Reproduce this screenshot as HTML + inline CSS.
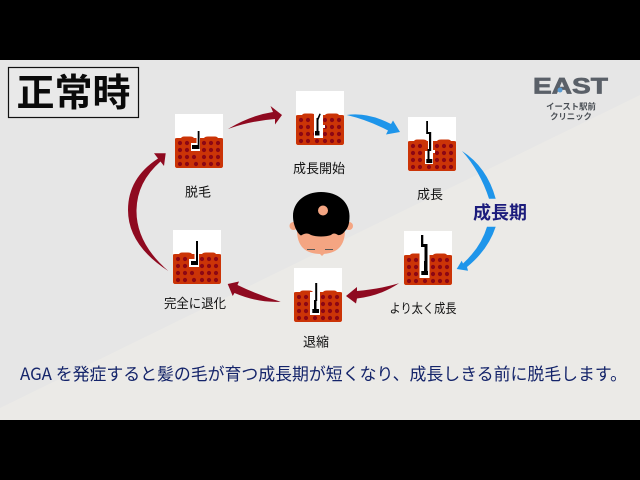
<!DOCTYPE html>
<html lang="ja"><head><meta charset="utf-8"><style>
html,body{margin:0;padding:0;background:#000}
svg{display:block}
text{font-family:"Noto Sans CJK JP","Liberation Sans",sans-serif}
.l{font-size:13px;fill:#111;text-anchor:middle}
</style></head><body>
<svg width="640" height="480" viewBox="0 0 640 480" xmlns="http://www.w3.org/2000/svg">
<defs>
<g id="ic">
<rect width="48" height="54" fill="#fff"/>
<path d="M0 25Q0 24 2 24H6Q7 22.500 9 22.500H15Q18 22.500 19 24H29Q30 22.500 33 22.500H40Q42 22.500 43 24H46Q48 24 48 25V52Q48 54 46 54H2Q0 54 0 52Z" fill="#cb3407"/>
<g fill="#8c0714">
<circle cx="5" cy="29" r="2.100"/><circle cx="12" cy="29" r="2.100"/><circle cx="29" cy="29" r="2.100"/><circle cx="36" cy="29" r="2.100"/><circle cx="43" cy="29" r="2.100"/>
<circle cx="5" cy="36" r="2.100"/><circle cx="12" cy="36" r="2.100"/><circle cx="29" cy="36" r="2.100"/><circle cx="36" cy="36" r="2.100"/><circle cx="43" cy="36" r="2.100"/>
<circle cx="5" cy="43" r="2.100"/><circle cx="12" cy="43" r="2.100"/><circle cx="19" cy="43" r="2.100"/><circle cx="29" cy="43" r="2.100"/><circle cx="36" cy="43" r="2.100"/><circle cx="43" cy="43" r="2.100"/>
<circle cx="5" cy="50" r="2.100"/><circle cx="12" cy="50" r="2.100"/><circle cx="21" cy="50" r="2.100"/><circle cx="29" cy="50" r="2.100"/><circle cx="36" cy="50" r="2.100"/><circle cx="43" cy="50" r="2.100"/>
</g>
</g>
</defs>

<rect width="640" height="480" fill="#000"/>
<rect y="60" width="640" height="360" fill="#e6e6e6"/>
<path d="M640 95V420H0V408Z" fill="#ebeae7"/>

<rect x="8.500" y="67.500" width="130" height="50" fill="#e9e9e9" stroke="#111" stroke-width="1.200"/>
<text x="73.500" y="106" font-size="38" text-anchor="middle" fill="#0a0a0a" font-weight="700">正常時</text>

<!-- logo -->
<text x="570.500" y="93.500" font-size="22" font-weight="700" text-anchor="middle" fill="#5a6068" stroke="#5a6068" stroke-width="0.700" textLength="75" lengthAdjust="spacingAndGlyphs" style="font-family:'Liberation Sans',sans-serif">EAST</text>
<circle cx="560" cy="90" r="2.500" fill="#5b9bd0"/>
<text x="571" y="109.500" font-size="8.400" font-weight="700" text-anchor="middle" fill="#4a4f55">イースト駅前</text>
<text x="571" y="119.500" font-size="8.400" font-weight="700" text-anchor="middle" fill="#4a4f55">クリニック</text>

<!-- icons -->
<g transform="translate(175,114)"><use href="#ic"/>
<path d="M21.500 23H25V37H16V29H21.500Z" fill="#fff"/>
<path d="M17 31H24.500V35H17Z M22.700 17H24.500V35H22.700Z" fill="#000"/></g>
<g transform="translate(296,91)"><use href="#ic"/>
<path d="M18 22H27V34H29V37H27V47H18Z" fill="#fff"/>
<path d="M19 40H23.500V44.500H19Z M20.500 27H22.500V41H20.500Z" fill="#000"/>
<path d="M21 28L23.500 22.500L24.800 23L22.500 29Z" fill="#000"/></g>
<g transform="translate(408,117)"><use href="#ic"/>
<path d="M20 24H25V33H27V36H25V47H17V34H20Z" fill="#fff"/>
<path d="M18.300 42H24.300V46H18.300Z M19.500 32H21.500V43H19.500Z M21 15H23.200V34H21Z M18.200 4H20V15H23.200V17H18.200Z" fill="#000"/></g>
<g transform="translate(404,231)"><use href="#ic"/>
<path d="M15.500 22H25.500V47H15.500Z" fill="#fff"/>
<path d="M17.300 40H24V44H17.300Z M20 30H23.500V41H20Z M20.500 13H23.500V32H20.500Z M17 4H19.300V13H23.500V16H17Z" fill="#000"/></g>
<g transform="translate(294,268)"><use href="#ic"/>
<path d="M16 24H26V47H16Z" fill="#fff"/>
<path d="M18.300 41H25V45H18.300Z M20 32H22.500V42H20Z M21.200 15H23.200V33H21.200Z" fill="#000"/></g>
<g transform="translate(173,230)"><use href="#ic"/>
<path d="M21.500 23H26V37H16V29H21.500Z" fill="#fff"/>
<path d="M18 31H25V35H18Z M23 11H25V35H23Z" fill="#000"/></g>

<!-- arrows -->
<g fill="#8f0a20">
<path d="M228 129Q250 115.500 273 112L270.500 106L282 115L275 124.500L275 119Q250 121 228 129Z"/>
<path d="M399 283.300Q380 289 357 291L357 287L346 296L356 303.500L357 298.500Q380 296 399 283.300Z"/>
<path d="M280.700 301.700Q258 295 237.500 285L239 281.500L227.700 284L232.700 296L234.500 293Q258 303 280.700 301.700Z"/>
<path d="M168.300 271Q128 245 128 210Q128 178 158 158.500L154 153.300L165.700 153.300L164 166L160.500 161.500Q137 182 136.500 210Q136 243 168.300 271Z"/>
</g>
<g fill="#1e95ea">
<path d="M346.700 115Q368 112 391 124L393 120.500L400 132L386 134.500L388 130.500Q368 120 346.700 115Z"/>
<path d="M462 151Q487 167 495.700 198.700H489Q480 171 462 151Z"/>
<path d="M495.700 226.700Q488 250 467 267L468 270.700L456.700 269L461.700 260.700L463 263.500Q481 247 487 226.700Z"/>
</g>

<!-- head -->
<circle cx="293.500" cy="226" r="4" fill="#f4a582"/><circle cx="349" cy="226" r="4" fill="#f4a582"/>
<path d="M297 230H345Q345 254 321 254Q297 254 297 230Z" fill="#f4a582"/>
<path d="M319 253H325L322 256Z" fill="#f4a582"/>
<path d="M293 216C293 202 305 192 321 192C338 192 349.500 202 349.500 216C349.500 224 348 228 345 231C343 234 340 235.500 338 235C335 233 333 233 331 235C326 237 316 237 311 235C308 233 305 233 301 235.500C298 234 293 226 293 216Z" fill="#000"/>
<circle cx="323" cy="210.500" r="5" fill="#f4a582"/>
<path d="M307 249.500H315M325 249.500H333" stroke="#555" stroke-width="1"/>

<!-- labels -->
<text class="l" x="319" y="173">成長開始</text>
<text class="l" x="430" y="199">成長</text>
<text class="l" x="423" y="313" textLength="67" lengthAdjust="spacingAndGlyphs">より太く成長</text>
<text class="l" x="316" y="346.500">退縮</text>
<text class="l" x="195" y="308" textLength="62" lengthAdjust="spacingAndGlyphs">完全に退化</text>
<text class="l" x="198" y="196.500">脱毛</text>
<text x="500" y="219" font-size="18" font-weight="700" text-anchor="middle" fill="#1c1c7c">成長期</text>
<text x="20" y="380" font-size="17.300" fill="#14246a" textLength="607" lengthAdjust="spacingAndGlyphs">AGA を発症すると髪の毛が育つ成長期が短くなり、成長しきる前に脱毛します。</text>
</svg>
</body></html>
